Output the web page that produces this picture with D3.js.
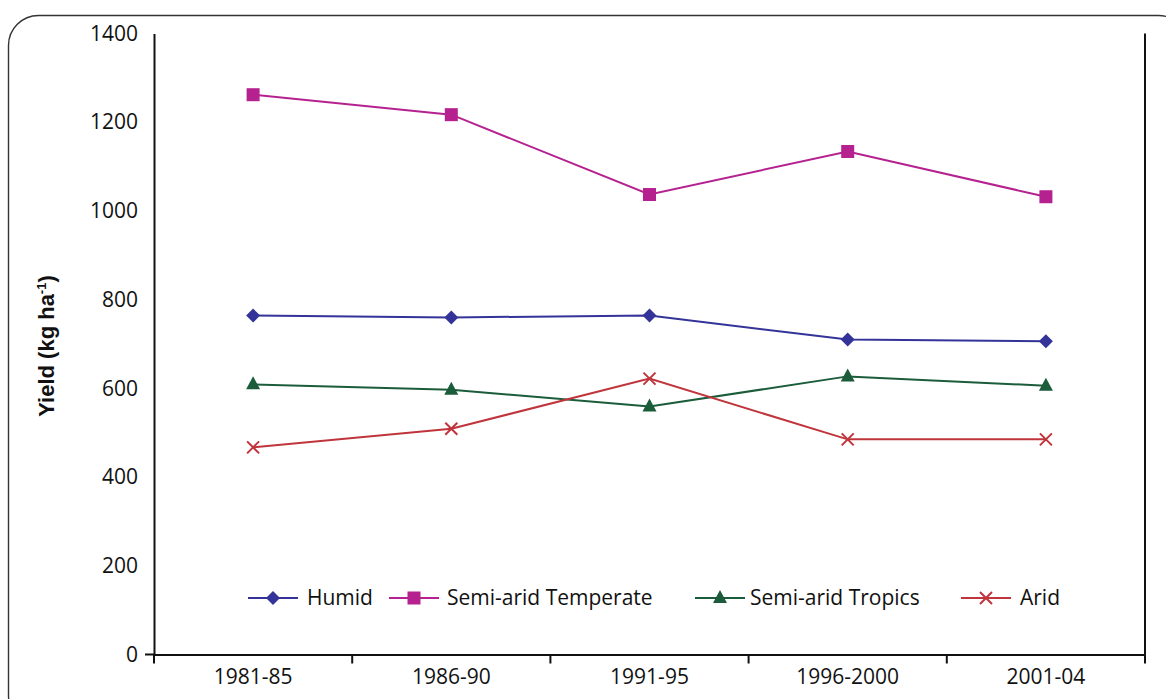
<!DOCTYPE html>
<html>
<head>
<meta charset="utf-8">
<script src="https://cdn.jsdelivr.net/npm/d3@7"></script>
<style>
  body { margin: 0; background: #fff; }
  svg { display: block; }
  .tick text { font-family: "Open Sans", sans-serif; font-size: 21px; fill: #111; }
  .legend text { font-family: "Open Sans", sans-serif; font-size: 21px; fill: #111; }
</style>
</head>
<body>
<div class="chart"></div>
<script>
// data
var periods = ["1981-85", "1986-90", "1991-95", "1996-2000", "2001-04"];
var humid = [764, 760, 764, 710, 706];
var semiAridTemperate = [1262, 1217, 1037, 1134, 1032];
var semiAridTropics = [609, 597, 559, 627, 606];
var arid = [467, 509, 622, 485, 485];
var yTicks = [0, 200, 400, 600, 800, 1000, 1200, 1400];

var svgWidth = 1166;
var svgHeight = 699;

var plot = { left: 154, right: 1145, top: 33.5, bottom: 654.5 };

var series = [
  { name: "Humid", values: humid, color: "#333399", marker: "diamond", lx: 248, tx: 307 },
  { name: "Semi-arid Temperate", values: semiAridTemperate, color: "#b5228f", marker: "square", lx: 389, tx: 447 },
  { name: "Semi-arid Tropics", values: semiAridTropics, color: "#1b5c3b", marker: "triangle", lx: 695, tx: 750 },
  { name: "Arid", values: arid, color: "#c0343c", marker: "x", lx: 961, tx: 1020 }
];

var svg = d3.select(".chart")
  .append("svg")
  .attr("width", svgWidth)
  .attr("height", svgHeight);

// rounded frame
svg.append("rect")
  .attr("x", 8.5)
  .attr("y", 15.5)
  .attr("width", 1180)
  .attr("height", 710)
  .attr("rx", 30)
  .attr("fill", "none")
  .attr("stroke", "#333")
  .attr("stroke-width", 1.4);

var xScale = d3.scaleBand()
  .domain(periods)
  .range([plot.left, plot.right])
  .padding(0);

var yScale = d3.scaleLinear()
  .domain([0, 1400])
  .range([plot.bottom, plot.top]);

// y axis
var leftAxis = d3.axisLeft(yScale)
  .tickValues(yTicks)
  .tickFormat(d3.format("d"))
  .tickSize(0)
  .tickPadding(16);
var yAxisG = svg.append("g")
  .attr("transform", `translate(${plot.left}, 0)`)
  .call(leftAxis);
yAxisG.select(".domain").attr("stroke", "#111").attr("stroke-width", 2);

// small tick at 0 pointing left
svg.append("line")
  .attr("x1", plot.left - 9).attr("x2", plot.left)
  .attr("y1", yScale(0)).attr("y2", yScale(0))
  .attr("stroke", "#111").attr("stroke-width", 2);

// right frame line of plot
svg.append("line")
  .attr("x1", plot.right).attr("x2", plot.right)
  .attr("y1", plot.top).attr("y2", plot.bottom)
  .attr("stroke", "#111").attr("stroke-width", 2);

// x axis
var bottomAxis = d3.axisBottom(xScale).tickSize(0).tickPadding(15);
var xAxisG = svg.append("g")
  .attr("transform", `translate(0, ${plot.bottom})`)
  .call(bottomAxis);
xAxisG.select(".domain").attr("stroke", "#111").attr("stroke-width", 2);

// category boundary ticks
var bounds = periods.map(d => xScale(d)).concat([xScale(periods[periods.length - 1]) + xScale.bandwidth()]);
svg.append("g").selectAll("line")
  .data(bounds)
  .enter()
  .append("line")
  .attr("x1", d => d).attr("x2", d => d)
  .attr("y1", plot.bottom).attr("y2", plot.bottom + 9)
  .attr("stroke", "#111").attr("stroke-width", 2);

svg.selectAll(".tick text").attr("fill", "#111");

function drawMarker(g, type, color) {
  if (type === "diamond") {
    g.append("path").attr("d", "M0,-7L7,0L0,7L-7,0Z").attr("fill", color);
  } else if (type === "square") {
    g.append("rect").attr("x", -6.5).attr("y", -6.5).attr("width", 13).attr("height", 13).attr("fill", color);
  } else if (type === "triangle") {
    g.append("path").attr("d", "M0,-8L7,5L-7,5Z").attr("fill", color);
  } else {
    g.append("path").attr("d", "M-6,-6L6,6M-6,6L6,-6").attr("stroke", color).attr("stroke-width", 2).attr("fill", "none");
  }
}

var line = d3.line()
  .x((d, i) => xScale(periods[i]) + xScale.bandwidth() / 2)
  .y(d => yScale(d));

series.forEach(function(s) {
  svg.append("path")
    .datum(s.values)
    .attr("d", line)
    .attr("fill", "none")
    .attr("stroke", s.color)
    .attr("stroke-width", 2);

  svg.append("g").selectAll("g")
    .data(s.values)
    .enter()
    .append("g")
    .attr("transform", (d, i) => `translate(${xScale(periods[i]) + xScale.bandwidth() / 2}, ${yScale(d)})`)
    .each(function() { drawMarker(d3.select(this), s.marker, s.color); });
});

// legend
var legend = svg.append("g").attr("class", "legend");
var legendY = 598;
series.forEach(function(s) {
  var g = legend.append("g");
  g.append("line")
    .attr("x1", s.lx).attr("x2", s.lx + 50)
    .attr("y1", legendY).attr("y2", legendY)
    .attr("stroke", s.color).attr("stroke-width", 2);
  var m = g.append("g").attr("transform", `translate(${s.lx + 25}, ${legendY})`);
  drawMarker(m, s.marker, s.color);
  g.append("text")
    .attr("x", s.tx)
    .attr("y", legendY)
    .attr("dy", "0.35em")
    .text(s.name);
});

// y axis title
var title = svg.append("text")
  .attr("transform", "translate(54, 346) rotate(-90)")
  .attr("text-anchor", "middle")
  .style("font-family", "'Liberation Sans', Arial, sans-serif")
  .style("font-weight", "bold")
  .style("font-size", "22px")
  .attr("fill", "#111");
title.append("tspan").text("Yield (kg ha");
title.append("tspan").attr("dy", -8).style("font-size", "13px").text("-1");
title.append("tspan").attr("dy", 8).text(")");
</script>
</body>
</html>
